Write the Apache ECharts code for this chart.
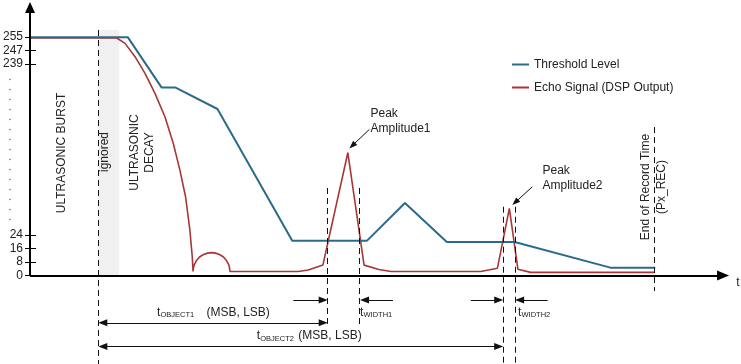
<!DOCTYPE html>
<html>
<head>
<meta charset="utf-8">
<script src="https://cdn.jsdelivr.net/npm/echarts@6/dist/echarts.min.js"></script>
<style>html,body{margin:0;padding:0;background:#fff}#c{width:741px;height:364px}</style>
</head>
<body>
<div id="c"></div>
<script>
// ---- data (time units along x, drawn level units along y; axis is broken between 24 and 239) ----
const yTickLabels = ['0', '8', '16', '24', '239', '247', '255'];
const yTickPos = [0, 8, 16, 24, 125.3, 133.3, 141.3];

const thresholdX = [0, 98, 132, 146, 188, 263, 338, 376, 418, 486, 582, 627];
const thresholdY = [141.3, 141.3, 111.4, 111.4, 98.7, 20.7, 20.7, 43.0, 19.9, 19.9, 4.7, 4.7];

const echoX = [0, 87, 95.3, 105.3, 115.3, 125.3, 135.3, 143.7, 150.3, 156, 160.3, 162.7, 163.5,
  164, 165, 167, 170, 174, 178, 182, 186, 190, 194, 197, 199, 200, 200.5,
  269, 279, 293.7, 318.7, 335, 350, 362,
  452, 468.7, 480.7, 489.3, 502, 626];
const echoY = [140.8, 140.8, 137.6, 129.7, 119.8, 108.0, 94.1, 78.3, 62.5, 46.7, 27.0, 11.1, 2.4,
  5.0, 6.8, 8.9, 11.0, 12.5, 13.3, 13.6, 13.3, 12.5, 11.0, 8.9, 6.8, 5.0, 2.4,
  2.4, 3.3, 6.2, 72.8, 6.2, 3.6, 2.4,
  2.4, 4.3, 39.8, 3.7, 1.9, 1.9];

const seriesNames = ['Threshold Level', 'Echo Signal (DSP Output)'];

// ---- chart ----
const FONT = '"Liberation Sans", Arial, sans-serif';
const BLUE = '#2c6a8a', RED = '#a93636', INK = '#222';
const zip = (xs, ys) => xs.map((x, i) => [x, ys[i]]);

const dash = { type: [6, 4], width: 1, color: '#111' };
const solid = { type: 'solid', width: 1, color: '#111' };
function seg(x1, y1, x2, y2, style, s1, s2, size) {
  return [
    { coord: [x1, y1], symbol: s1 || 'none', symbolSize: size || [7, 9], lineStyle: style },
    { coord: [x2, y2], symbol: s2 || 'none', symbolSize: size || [7, 9] }
  ];
}

const annotations = [
  // axes with arrow heads
  seg(0, 0, 0, 158.8, { type: 'solid', width: 2, color: '#000' }, 'none', 'triangle', [10, 11]),
  seg(0, 0, 695, 0, { type: 'solid', width: 2, color: '#000' }, 'none', 'triangle', [10, 12]),
  // dashed markers
  seg(68.5, 145.5, 68.5, -52.4, dash),
  seg(298.5, 51.9, 298.5, -30.5, dash),
  seg(330.5, 51.9, 330.5, -30.5, dash),
  seg(474.5, 40.8, 474.5, -52.4, dash),
  seg(486.5, 40.8, 486.5, -52.4, dash),
  seg(626.5, 88.0, 626.5, -9.2, dash),
  // dimension arrows
  seg(264, -14.5, 294, -14.5, solid, 'none', 'triangle'),
  seg(364, -14.5, 335.5, -14.5, solid, 'none', 'triangle'),
  seg(73, -28.0, 294, -28.0, solid, 'triangle', 'triangle'),
  seg(73, -42.0, 470, -42.0, solid, 'triangle', 'triangle'),
  seg(442, -14.5, 470, -14.5, solid, 'none', 'triangle'),
  seg(519, -14.5, 491, -14.5, solid, 'none', 'triangle'),
  // peak callouts
  seg(340.3, 86.6, 323.2, 77.0, solid, 'none', 'triangle', [6, 8]),
  seg(503.7, 52.6, 486.65, 43.4, solid, 'none', 'triangle', [6, 8])
];

function txt(x, y, text, opt) {
  opt = opt || {};
  return {
    type: 'text', x: x, y: y, rotation: opt.rot || 0, silent: true, z: 10,
    style: {
      text: text, fill: INK, fontFamily: FONT, fontSize: opt.size || 12,
      lineHeight: opt.lh || 14, align: opt.align || 'left', verticalAlign: opt.va || 'middle'
    }
  };
}
const R = Math.PI / 2;
const dots = [];
for (let i = 0; i < 15; i++) {
  dots.push({ type: 'circle', silent: true, shape: { cx: 10, cy: 79.5 + i * 10, r: 0.7 }, style: { fill: '#555' } });
}

const chart = echarts.init(document.getElementById('c'), null, { renderer: 'canvas' });
chart.setOption({
  animation: false,
  backgroundColor: '#fff',
  textStyle: { fontFamily: FONT },
  grid: { left: 28, right: 0, top: 0, bottom: 0, containLabel: false },
  legend: {
    orient: 'vertical', left: 512, top: 58.5, padding: 0, itemGap: 11,
    itemWidth: 17, itemHeight: 2, icon: 'rect',
    textStyle: { fontFamily: FONT, fontSize: 12, color: INK },
    data: seriesNames
  },
  xAxis: { type: 'value', min: 0, max: 713, show: false },
  yAxis: [
    {
      type: 'value', min: -52.4, max: 163.3,
      axisLine: { show: false }, splitLine: { show: false },
      axisTick: { show: true, length: 5, customValues: yTickPos, lineStyle: { color: '#000', width: 1 } },
      axisLabel: {
        show: true, margin: 7, fontFamily: FONT, fontSize: 12, color: INK,
        customValues: yTickPos,
        formatter: v => { const i = yTickPos.indexOf(v); return i >= 0 ? yTickLabels[i] : ''; }
      }
    },
    {
      type: 'value', min: -52.4, max: 163.3, position: 'left',
      axisLine: { show: false }, splitLine: { show: false }, axisLabel: { show: false },
      axisTick: { show: true, inside: true, length: 6, customValues: yTickPos, lineStyle: { color: '#000', width: 1 } }
    }
  ],
  series: [
    {
      name: 'band', type: 'line', data: [], z: 1, silent: true,
      markArea: {
        silent: true,
        itemStyle: { color: '#f0f0f0' },
        data: [[{ coord: [68.5, 0] }, { coord: [89.5, 145.5] }]]
      }
    },
    {
      name: seriesNames[0], type: 'line', z: 4, showSymbol: false, symbol: 'none',
      color: BLUE, lineStyle: { color: BLUE, width: 2 },
      data: zip(thresholdX, thresholdY),
      markLine: { silent: true, symbol: 'none', label: { show: false }, emphasis: { disabled: true }, data: annotations }
    },
    {
      name: seriesNames[1], type: 'line', z: 3, showSymbol: false, symbol: 'none',
      color: RED, lineStyle: { color: RED, width: 1.6 },
      data: zip(echoX, echoY)
    }
  ],
  graphic: dots.concat([
    txt(62, 153, 'ULTRASONIC BURST', { rot: R, align: 'center' }),
    txt(105, 152, 'ignored', { rot: R, align: 'center' }),
    txt(142.5, 152.5, 'ULTRASONIC\nDECAY', { rot: R, align: 'center', lh: 15 }),
    txt(653.5, 187, 'End of Record Time\n(Px_REC)', { rot: R, align: 'center', lh: 16 }),
    txt(370.5, 106, 'Peak\nAmplitude1', { va: 'top', lh: 15 }),
    txt(542.5, 163, 'Peak\nAmplitude2', { va: 'top', lh: 15 }),
    txt(738, 283, 't', { align: 'center' }),
    txt(360, 312.5, 't'), txt(363.5, 315, 'WIDTH1', { size: 7.5 }),
    txt(518, 312.5, 't'), txt(521.5, 315, 'WIDTH2', { size: 7.5 }),
    txt(157, 312.5, 't'), txt(160.5, 315, 'OBJECT1', { size: 7.5 }), txt(206.5, 312.5, '(MSB, LSB)'),
    txt(256.7, 336, 't'), txt(260.2, 338.5, 'OBJECT2', { size: 7.5 }), txt(298.3, 336, '(MSB, LSB)')
  ])
});
</script>
</body>
</html>
